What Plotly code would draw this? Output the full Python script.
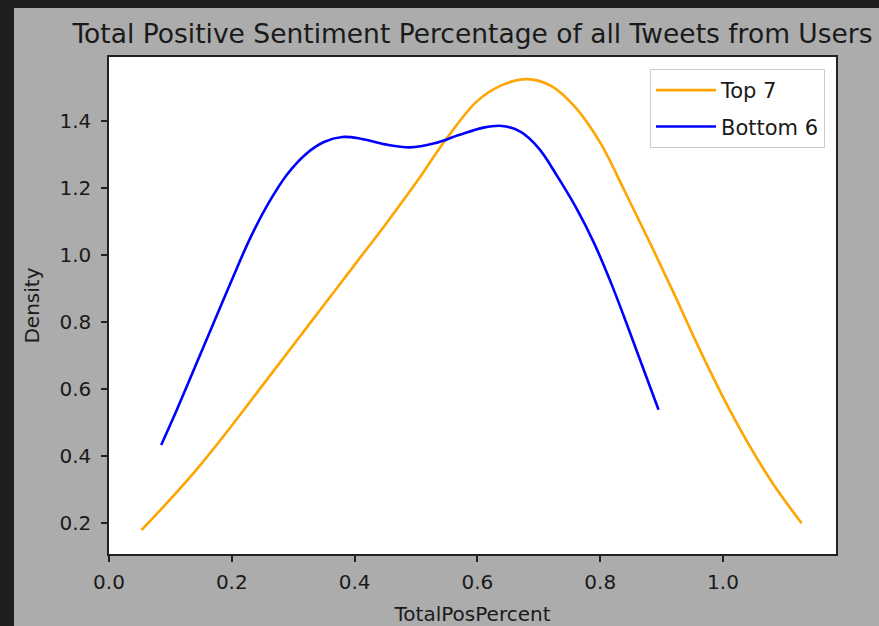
import plotly.graph_objects as go

# Top 7 KDE curve
top7_x = [0.053, 0.10, 0.15, 0.20, 0.25, 0.30, 0.35, 0.40, 0.45, 0.50, 0.55, 0.60,
          0.64, 0.68, 0.72, 0.76, 0.80, 0.84, 0.88, 0.92, 0.96, 1.00, 1.04, 1.08, 1.128]
top7_y = [0.178, 0.27, 0.375, 0.49, 0.61, 0.73, 0.85, 0.97, 1.09, 1.215, 1.348, 1.46,
          1.507, 1.525, 1.505, 1.44, 1.335, 1.19, 1.04, 0.885, 0.725, 0.575, 0.44, 0.32, 0.198]

# Bottom 6 KDE curve
bot6_x = [0.085, 0.11, 0.14, 0.17, 0.20, 0.23, 0.26, 0.29, 0.32, 0.35, 0.38, 0.41, 0.45,
          0.49, 0.53, 0.57, 0.61, 0.64, 0.67, 0.70, 0.73, 0.76, 0.79, 0.82, 0.85, 0.895]
bot6_y = [0.432, 0.535, 0.665, 0.795, 0.925, 1.05, 1.155, 1.24, 1.30, 1.337, 1.352, 1.347,
          1.330, 1.321, 1.333, 1.358, 1.380, 1.385, 1.368, 1.318, 1.235, 1.143, 1.035,
          0.905, 0.76, 0.537]

x_ticks = [0.0, 0.2, 0.4, 0.6, 0.8, 1.0]
y_ticks = [0.2, 0.4, 0.6, 0.8, 1.0, 1.2, 1.4]

W, H = 879, 626
L, R, T, B = 109, 43, 57, 72
pw, ph = W - L - R, H - T - B

fig = go.Figure()
fig.add_trace(go.Scatter(x=top7_x, y=top7_y, mode="lines", name="Top 7", legendgroup="a",
                         line=dict(color="orange", width=2.6, shape="spline", smoothing=1.0)))
fig.add_trace(go.Scatter(x=bot6_x, y=bot6_y, mode="lines", name="Bottom 6", legendgroup="b",
                         line=dict(color="blue", width=2.6, shape="spline", smoothing=1.0)))

dark = "#1e1e1e"
fig.add_shape(type="rect", xref="paper", yref="paper",
              x0=-L / pw, x1=(14 - L) / pw, y0=-B / ph, y1=1 + T / ph,
              fillcolor=dark, line_width=0, layer="below")
fig.add_shape(type="rect", xref="paper", yref="paper",
              x0=-L / pw, x1=1 + R / pw, y0=1 + (T - 8) / ph, y1=1 + T / ph,
              fillcolor=dark, line_width=0, layer="below")

txt = "#1a1a1a"
tick_font = dict(family="DejaVu Sans", size=20, color=txt)
fig.update_layout(
    width=W, height=H,
    margin=dict(l=L, r=R, t=T, b=B, pad=0, autoexpand=False),
    paper_bgcolor="#acacac", plot_bgcolor="white",
    font=dict(family="DejaVu Sans", color=txt),
    title=dict(text="Total Positive Sentiment Percentage of all Tweets from Users",
               x=(L + pw / 2) / W, xanchor="center", y=1 - 34 / H, yanchor="middle",
               font=dict(family="DejaVu Sans", size=26.5, color=txt)),
    showlegend=True,
    legend=dict(x=(825 - L) / pw, xanchor="right", y=(H - B - 69) / ph, yanchor="top",
                bgcolor="white", bordercolor="#cccccc", borderwidth=1,
                itemwidth=60, tracegroupgap=6,
                font=dict(family="DejaVu Sans", size=21, color=txt)),
    xaxis=dict(range=[0.0, 1.184], tickvals=x_ticks, ticktext=[f"{v:.1f}" for v in x_ticks],
               showgrid=False, zeroline=False, showline=True, linecolor="#222222", linewidth=1.5,
               mirror=True, ticks="outside", ticklen=6, tickwidth=1.5, tickcolor="#222222",
               tickfont=tick_font, ticklabelstandoff=3, automargin=False,
               title=dict(text="TotalPosPercent", font=dict(family="DejaVu Sans", size=20, color=txt),
                          standoff=14)),
    yaxis=dict(range=[0.1063, 1.591], tickvals=y_ticks, ticktext=[f"{v:.1f}" for v in y_ticks],
               showgrid=False, zeroline=False, showline=True, linecolor="#222222", linewidth=1.5,
               mirror=True, ticks="outside", ticklen=6, tickwidth=1.5, tickcolor="#222222",
               tickfont=tick_font, ticklabelstandoff=6, automargin=False,
               title=dict(text="Density", font=dict(family="DejaVu Sans", size=20, color=txt),
                          standoff=14)),
)

fig.write_html("out.html", config={"displayModeBar": False},
               post_script="document.body.style.margin='0px';")
